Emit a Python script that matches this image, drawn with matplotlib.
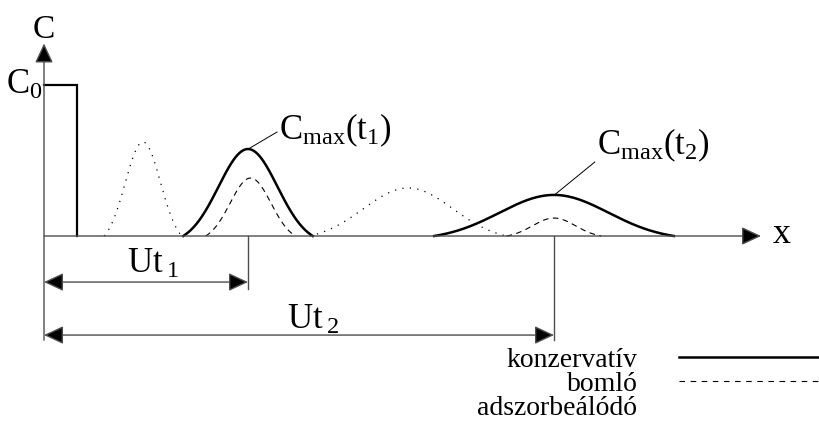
import numpy as np
import matplotlib
matplotlib.use("Agg")
import matplotlib.pyplot as plt

plt.rcParams['font.family'] = ['Liberation Serif', 'DejaVu Serif']
plt.rcParams['mathtext.fontset'] = 'custom'
plt.rcParams['mathtext.rm'] = 'Liberation Serif'
plt.rcParams['mathtext.it'] = 'Liberation Serif'
plt.rcParams['mathtext.bf'] = 'Liberation Serif'

# distance in units of U*t, concentration in units of C0
ut1 = 4.0
ut2 = 10.0
pulse_x = [0.0, 0.65, 0.65]
pulse_c = [1.0, 1.0, 0.0]

# peaks: centre, height, half-width of base
kons_center = [4.0, 10.0]
kons_height = [0.576, 0.272]
kons_half = [1.27, 2.35]

boml_center = [4.05, 10.0]
boml_height = [0.384, 0.119]
boml_half = [0.88, 0.93]

adsz_center = [1.94, 7.14]
adsz_height = [0.623, 0.318]
adsz_half = [0.76, 1.93]

legend_labels = ['konzervatív', 'bomló', 'adszorbeálódó']


def bell(center, height, half, n=200):
    # truncated gaussian that drops to zero at center +- half
    xs = np.linspace(center - half, center + half, n)
    s = half / 2.2
    g = np.exp(-(xs - center)**2 / (2 * s**2))
    g0 = np.exp(-half**2 / (2 * s**2))
    return xs, height * (g - g0) / (1 - g0)


fig = plt.figure(figsize=(8.2, 4.36), dpi=100)
ax = fig.add_axes([0, 0, 1, 1])
ax.set_xlim(-0.863, 15.216)
ax.set_ylim(-1.3245, 1.563)
ax.axis('off')

axc = '0.3'
arr = dict(color=axc, lw=1.0, mutation_scale=16, shrinkA=0, shrinkB=0, fc='black', ec=axc)
# axes with arrows
ax.annotate('', xy=(0, 1.275), xytext=(0, -0.69),
            arrowprops=dict(arrowstyle='-|>,head_length=0.75,head_width=0.35', **arr))
ax.annotate('', xy=(14.06, 0), xytext=(0, 0),
            arrowprops=dict(arrowstyle='-|>,head_length=0.75,head_width=0.35', **arr))
ax.text(0, 1.364, 'C', fontsize=24, ha='center', va='center')
ax.text(14.47, 0.01, 'x', fontsize=26, ha='center', va='center')
ax.text(-0.03, 1.0, r'$\mathrm{C_0}$', fontsize=25, ha='right', va='center')

# source pulse
ax.plot(pulse_x, pulse_c, color='black', lw=1.6, solid_joinstyle='miter')

for c, h, w in zip(adsz_center, adsz_height, adsz_half):
    xs, ys = bell(c, h, w)
    ax.plot(xs, ys, color='black', lw=0.9, linestyle=(0, (1, 5)))
for c, h, w in zip(kons_center, kons_height, kons_half):
    xs, ys = bell(c, h, w)
    ax.plot(xs, ys, color='black', lw=1.8)
for c, h, w in zip(boml_center, boml_height, boml_half):
    xs, ys = bell(c, h, w)
    ax.plot(xs, ys, color='black', lw=0.8, linestyle=(0, (5, 4)))

# C max labels
ax.plot([4.04, 4.57], [0.583, 0.689], color='black', lw=0.7)
ax.text(4.6, 0.70, r'$\mathrm{C_{max}(t_1)}$', fontsize=25, ha='left', va='center')
ax.plot([10.02, 10.8], [0.275, 0.49], color='black', lw=0.7)
ax.text(10.84, 0.60, r'$\mathrm{C_{max}(t_2)}$', fontsize=25, ha='left', va='center')

# distance dimensions
ax.plot([ut1, ut1], [0, -0.35], color=axc, lw=1.0)
ax.plot([ut2, ut2], [0, -0.69], color=axc, lw=1.0)
for d, yy in [(ut1, -0.305), (ut2, -0.656)]:
    ax.annotate('', xy=(d, yy), xytext=(0, yy),
                arrowprops=dict(arrowstyle='<|-|>,head_length=0.75,head_width=0.35', **arr))
ax.text(1.63, -0.19, r'$\mathrm{Ut\,{}_1}$', fontsize=25, ha='left', va='center')
ax.text(4.76, -0.56, r'$\mathrm{Ut\,{}_2}$', fontsize=25, ha='left', va='center')

# legend
h1, = ax.plot([], [], color='black', lw=1.8)
h2, = ax.plot([], [], color='black', lw=0.8, linestyle=(0, (5, 5)))
h3, = ax.plot([], [], linestyle='none')
ax.legend([h1, h2, h3], legend_labels, loc='lower right', bbox_to_anchor=(1.0, 0.034),
          frameon=False, markerfirst=False, fontsize=20, handlelength=5.07,
          handletextpad=1.5, labelspacing=-0.05, borderpad=0.0, borderaxespad=0.0)

fig.savefig('out.png', dpi=100)
